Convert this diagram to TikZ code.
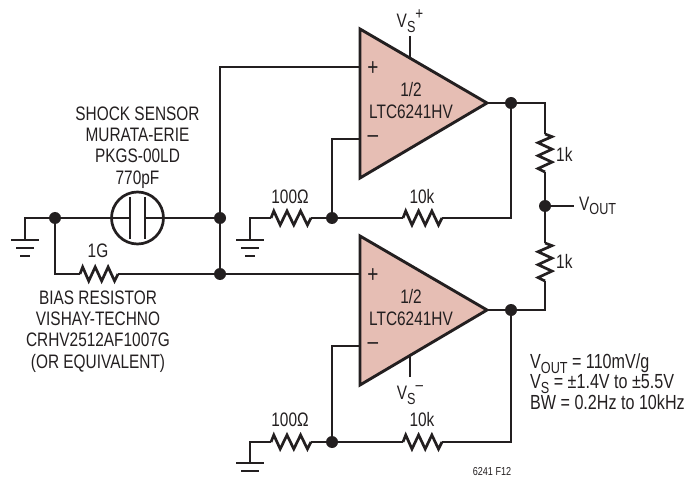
\documentclass[tikz,border=0pt]{standalone}
\usepackage{fontspec}
\setmainfont[FakeStretch=0.79]{Liberation Sans}
\usetikzlibrary{calc}
\definecolor{oppink}{RGB}{230,190,180}
\definecolor{inkc}{RGB}{35,31,32}
\tikzset{
 wire/.style={draw=inkc,line width=2.7pt,line join=miter},
 opamp/.style={draw=inkc,line width=2.9pt,fill=oppink,line join=miter},
 dot/.style={circle,fill=inkc,draw=none,inner sep=0pt,minimum size=12pt},
 lbl/.style={text=inkc,inner sep=0pt,font=\fontsize{19.5}{21.3}\selectfont,align=center},
 lbll/.style={text=inkc,inner sep=0pt,font=\fontsize{20.4}{20.6}\selectfont,align=left},
 sign/.style={text=inkc,inner sep=0pt,font=\fontsize{24}{24}\selectfont},
 tiny/.style={text=inkc,inner sep=0pt,font=\fontsize{11.5}{11.5}\selectfont},
}
\newcommand{\zigres}[3]{\draw[wire] (#1) -- ($(#1)!.07!(#2)+(#3)$) -- ($(#1)!.23!(#2)-(#3)$) -- ($(#1)!.40!(#2)+(#3)$) -- ($(#1)!.57!(#2)-(#3)$) -- ($(#1)!.74!(#2)+(#3)$) -- ($(#1)!.91!(#2)-(#3)$) -- (#2);}
\newcommand{\gnd}[1]{\draw[wire] ($(#1)+(-14,0)$) -- ($(#1)+(14,0)$);
 \draw[wire] ($(#1)+(-9,8)$) -- ($(#1)+(9,8)$);
 \draw[wire] ($(#1)+(-5,16)$) -- ($(#1)+(5,16)$);}
\newcommand{\vsub}[1]{V\raisebox{-0.24em}{\fontsize{16}{16}\selectfont #1}}
\begin{document}
\begin{tikzpicture}[x=1pt,y=-1pt]
\useasboundingbox (0,0) rectangle (698,478);
% op amps
\path[opamp] (360,29) -- (487,103) -- (360,178) -- cycle;
\path[opamp] (360,236) -- (487,310) -- (360,385) -- cycle;
\coordinate (topOut) at (487,103);
\coordinate (botOut) at (487,310);
\coordinate (topPlus) at (360,67);
\coordinate (topMinus) at (360,139);
\coordinate (botPlus) at (360,274);
\coordinate (botMinus) at (360,346);
% junctions
\node[dot] (jL) at (55,218) {};
\node[dot] (jC) at (220,218) {};
\node[dot] (jB) at (220,274) {};
\node[dot] (jT) at (332,218) {};
\node[dot] (jTO) at (511,103) {};
\node[dot] (jBO) at (511,310) {};
\node[dot] (jV) at (545,206) {};
\node[dot] (jBM) at (332,442) {};
% ground 1
\coordinate (g1) at (25,240);
\draw[wire] (jL.center) -- (25,218) -- (g1);
\gnd{g1}
% capacitor sensor
\coordinate (capc) at (137.5,218);
\draw[wire] (capc) circle (26);
\draw[wire] (jL.center) -- (130,218);
\draw[wire] (145,218) -- (jC.center);
\draw[wire] (130,197) -- (130,239);
\draw[wire] (145,197) -- (145,239);
% bias resistor
\coordinate (r1a) at (80,274);
\coordinate (r1b) at (118,274);
\draw[wire] (jL.center) -- (55,274) -- (r1a);
\zigres{r1a}{r1b}{0,-7}
\draw[wire] (r1b) -- (jB.center) -- (botPlus);
\draw[wire] (jB.center) -- (jC.center) -- (220,67) -- (topPlus);
% top feedback
\coordinate (g2) at (250,240);
\coordinate (r2a) at (271,218);
\coordinate (r2b) at (311,218);
\coordinate (r3a) at (403,218);
\coordinate (r3b) at (442,218);
\draw[wire] (g2) -- (250,218) -- (r2a);
\gnd{g2}
\zigres{r2a}{r2b}{0,-7}
\draw[wire] (r2b) -- (jT.center) -- (r3a);
\zigres{r3a}{r3b}{0,-7}
\draw[wire] (r3b) -- (511,218) -- (jTO.center);
\draw[wire] (jT.center) -- (332,139) -- (topMinus);
% bottom feedback
\coordinate (g3) at (250,463);
\coordinate (r4a) at (271,442);
\coordinate (r4b) at (311,442);
\coordinate (r5a) at (403,442);
\coordinate (r5b) at (442,442);
\draw[wire] (g3) -- (250,442) -- (r4a);
\gnd{g3}
\zigres{r4a}{r4b}{0,-7}
\draw[wire] (r4b) -- (jBM.center) -- (r5a);
\zigres{r5a}{r5b}{0,-7}
\draw[wire] (r5b) -- (511,442) -- (jBO.center);
\draw[wire] (jBM.center) -- (332,346) -- (botMinus);
% outputs
\coordinate (r6a) at (545,134);
\coordinate (r6b) at (545,172);
\coordinate (r7a) at (545,243);
\coordinate (r7b) at (545,281);
\coordinate (vo) at (574,206);
\draw[wire] (topOut) -- (jTO.center) -- (545,103) -- (r6a);
\zigres{r6a}{r6b}{7,0}
\draw[wire] (r6b) -- (jV.center) -- (r7a);
\zigres{r7a}{r7b}{7,0}
\draw[wire] (r7b) -- (545,310) -- (jBO.center) -- (botOut);
\draw[wire] (jV.center) -- (vo);
% supply pins
\coordinate (vp) at (410,36);
\coordinate (vpe) at (410,58);
\coordinate (vm) at (410,377);
\coordinate (vme) at (410,356);
\draw[wire] (vp) -- (vpe);
\draw[wire] (vm) -- (vme);
% op amp text
\node[sign] (p1) at (373,69) {+};
\node[sign] (m1) at (373,139.5) {–};
\node[sign] (p2) at (373,276) {+};
\node[sign] (m2) at (373,346.5) {–};
\node[lbl] (u1) at (411,100.5) {1/2\\LTC6241HV};
\node[lbl] (u2) at (411,307.5) {1/2\\LTC6241HV};
\node[lbl] (vplus) at (410,21) {\vsub{S}\raisebox{.45em}{\fontsize{17}{17}\selectfont +}};
\node[lbl] (vminus) at (410,395) {\vsub{S}\raisebox{.45em}{\fontsize{17}{17}\selectfont –}};
% labels
\node[lbl] (t1) at (137.5,147.5) {SHOCK SENSOR\\MURATA-ERIE\\PKGS-00LD\\770pF};
\node[lbl] (t2) at (98,331.5) {BIAS RESISTOR\\VISHAY-TECHNO\\CRHV2512AF1007G\\(OR EQUIVALENT)};
\node[lbl] (l1g) at (98,251) {1G};
\node[lbl] (l100a) at (290,197) {100Ω};
\node[lbl] (l10a) at (422,197) {10k};
\node[lbl] (l100b) at (290,420) {100Ω};
\node[lbl] (l10b) at (422,420) {10k};
\node[lbl,anchor=west] (l1ka) at (556,154) {1k};
\node[lbl,anchor=west] (l1kb) at (556,261) {1k};
\node[lbl,anchor=west] (lvo) at (579,206) {\vsub{OUT}};
\node[lbll,anchor=west] (spec) at (530,381.5) {\vsub{OUT} = 110mV/g\\\vsub{S} = ±1.4V to ±5.5V\\BW = 0.2Hz to 10kHz};
\node[tiny] (fig) at (492,472) {6241 F12};
\end{tikzpicture}
\end{document}
